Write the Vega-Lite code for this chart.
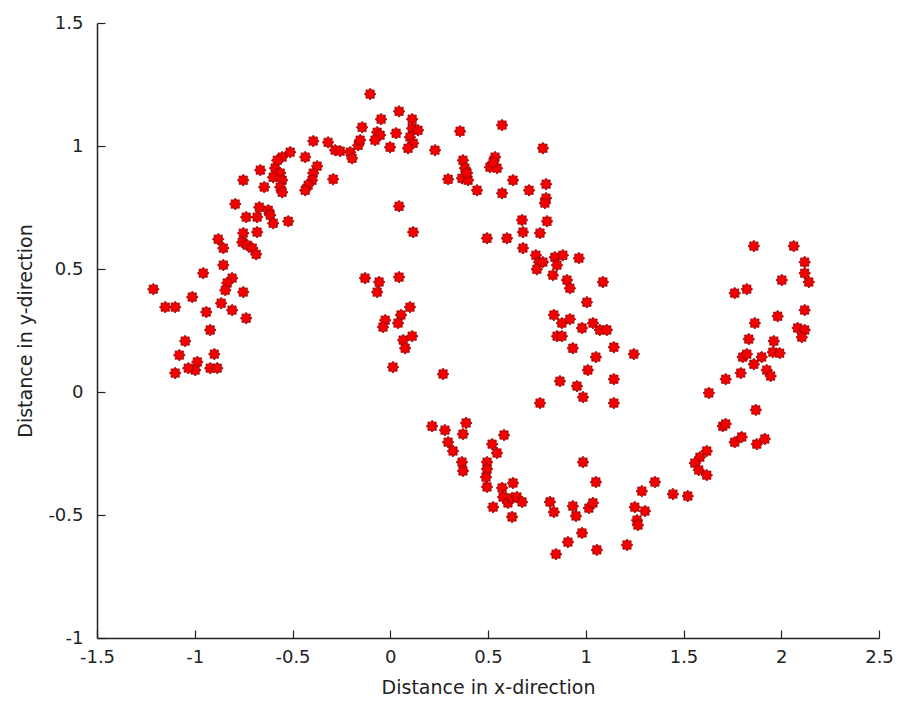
{
  "$schema": "https://vega.github.io/schema/vega-lite/v6.json",
  "width": 782,
  "height": 615,
  "autosize": "none",
  "padding": {"left": 97, "top": 23, "right": 23, "bottom": 68},
  "background": "white",
  "config": {
    "view": {"stroke": null},
    "axis": {
      "grid": false,
      "domainColor": "#222222",
      "domainWidth": 1.5,
      "tickColor": "#222222",
      "tickWidth": 1.2,
      "labelFont": "DejaVu Sans",
      "labelFontSize": 18,
      "labelColor": "#222222",
      "titleFont": "DejaVu Sans",
      "titleFontSize": 19,
      "titleFontWeight": "normal",
      "titleColor": "#222222"
    }
  },
  "data": {
    "values": [
      {"x": -1.212, "y": 0.418}, {"x": -1.151, "y": 0.345}, {"x": -1.100, "y": 0.345}, {"x": -1.013, "y": 0.386},
      {"x": -0.957, "y": 0.483}, {"x": -0.941, "y": 0.325}, {"x": -0.865, "y": 0.361}, {"x": -0.809, "y": 0.333},
      {"x": -0.737, "y": 0.300}, {"x": -0.921, "y": 0.252}, {"x": -1.049, "y": 0.207}, {"x": -1.079, "y": 0.150},
      {"x": -0.900, "y": 0.154}, {"x": -0.987, "y": 0.122}, {"x": -0.998, "y": 0.089}, {"x": -1.033, "y": 0.097},
      {"x": -1.100, "y": 0.077}, {"x": -0.921, "y": 0.097}, {"x": -0.885, "y": 0.097}, {"x": -0.854, "y": 0.516},
      {"x": -0.809, "y": 0.463}, {"x": -0.834, "y": 0.443}, {"x": -0.844, "y": 0.414}, {"x": -0.752, "y": 0.406},
      {"x": -0.880, "y": 0.621}, {"x": -0.854, "y": 0.585}, {"x": -0.752, "y": 0.646}, {"x": -0.757, "y": 0.609},
      {"x": -0.732, "y": 0.597}, {"x": -0.706, "y": 0.585}, {"x": -0.686, "y": 0.560}, {"x": -0.681, "y": 0.650},
      {"x": -0.793, "y": 0.764}, {"x": -0.670, "y": 0.751}, {"x": -0.624, "y": 0.739}, {"x": -0.614, "y": 0.719},
      {"x": -0.599, "y": 0.686}, {"x": -0.681, "y": 0.711}, {"x": -0.737, "y": 0.711}, {"x": -0.522, "y": 0.694},
      {"x": -0.752, "y": 0.861}, {"x": -0.645, "y": 0.833}, {"x": -0.665, "y": 0.902}, {"x": -0.589, "y": 0.910},
      {"x": -0.563, "y": 0.890}, {"x": -0.553, "y": 0.861}, {"x": -0.563, "y": 0.833}, {"x": -0.553, "y": 0.812},
      {"x": -0.599, "y": 0.873}, {"x": -0.512, "y": 0.975}, {"x": -0.553, "y": 0.955}, {"x": -0.578, "y": 0.942},
      {"x": -0.435, "y": 0.955}, {"x": -0.374, "y": 0.918}, {"x": -0.394, "y": 0.890}, {"x": -0.400, "y": 0.861},
      {"x": -0.420, "y": 0.841}, {"x": -0.435, "y": 0.820}, {"x": -0.292, "y": 0.865}, {"x": -0.394, "y": 1.020},
      {"x": -0.318, "y": 1.015}, {"x": -0.282, "y": 0.983}, {"x": -0.256, "y": 0.979}, {"x": -0.205, "y": 0.975},
      {"x": -0.195, "y": 0.950}, {"x": -0.164, "y": 1.003}, {"x": -0.154, "y": 1.024}, {"x": -0.144, "y": 1.076},
      {"x": -0.103, "y": 1.211}, {"x": -0.047, "y": 1.109}, {"x": -0.067, "y": 1.056}, {"x": -0.052, "y": 1.044},
      {"x": -0.078, "y": 1.024}, {"x": -0.001, "y": 0.995}, {"x": 0.030, "y": 1.052}, {"x": 0.045, "y": 1.141},
      {"x": 0.112, "y": 1.109}, {"x": 0.112, "y": 1.072}, {"x": 0.142, "y": 1.064}, {"x": 0.101, "y": 1.036},
      {"x": 0.117, "y": 1.011}, {"x": 0.091, "y": 0.991}, {"x": 0.229, "y": 0.983}, {"x": 0.357, "y": 1.060},
      {"x": 0.572, "y": 1.085}, {"x": 0.781, "y": 0.991}, {"x": 0.372, "y": 0.942}, {"x": 0.382, "y": 0.910},
      {"x": 0.367, "y": 0.869}, {"x": 0.398, "y": 0.861}, {"x": 0.444, "y": 0.820}, {"x": 0.296, "y": 0.865},
      {"x": 0.393, "y": 0.890}, {"x": 0.536, "y": 0.955}, {"x": 0.510, "y": 0.914}, {"x": 0.546, "y": 0.910},
      {"x": 0.526, "y": 0.934}, {"x": 0.628, "y": 0.861}, {"x": 0.572, "y": 0.808}, {"x": 0.710, "y": 0.820},
      {"x": 0.797, "y": 0.845}, {"x": 0.797, "y": 0.788}, {"x": 0.791, "y": 0.768}, {"x": 0.674, "y": 0.699},
      {"x": 0.679, "y": 0.650}, {"x": 0.766, "y": 0.646}, {"x": 0.802, "y": 0.694}, {"x": 0.495, "y": 0.625},
      {"x": 0.597, "y": 0.625}, {"x": 0.679, "y": 0.585}, {"x": 0.745, "y": 0.556}, {"x": 0.761, "y": 0.528},
      {"x": 0.750, "y": 0.499}, {"x": 0.781, "y": 0.528}, {"x": 0.842, "y": 0.548}, {"x": 0.883, "y": 0.556},
      {"x": 0.853, "y": 0.516}, {"x": 0.832, "y": 0.475}, {"x": 0.965, "y": 0.544}, {"x": 0.904, "y": 0.455},
      {"x": 0.919, "y": 0.422}, {"x": 1.088, "y": 0.447}, {"x": 1.006, "y": 0.365}, {"x": 0.837, "y": 0.313},
      {"x": 0.878, "y": 0.280}, {"x": 0.919, "y": 0.296}, {"x": 0.853, "y": 0.227}, {"x": 0.878, "y": 0.227},
      {"x": 0.981, "y": 0.260}, {"x": 1.037, "y": 0.280}, {"x": 1.072, "y": 0.252}, {"x": 1.108, "y": 0.252},
      {"x": 0.934, "y": 0.178}, {"x": 1.144, "y": 0.182}, {"x": 1.052, "y": 0.142}, {"x": 1.246, "y": 0.154},
      {"x": 1.011, "y": 0.089}, {"x": 0.868, "y": 0.044}, {"x": 0.955, "y": 0.024}, {"x": 0.986, "y": -0.021},
      {"x": 1.144, "y": 0.052}, {"x": 0.766, "y": -0.045}, {"x": 1.144, "y": -0.045},
      {"x": 0.045, "y": 0.755}, {"x": 0.117, "y": 0.650}, {"x": -0.129, "y": 0.463}, {"x": -0.057, "y": 0.447},
      {"x": -0.067, "y": 0.406}, {"x": 0.045, "y": 0.467}, {"x": 0.101, "y": 0.345}, {"x": 0.055, "y": 0.313},
      {"x": 0.040, "y": 0.280}, {"x": -0.026, "y": 0.292}, {"x": -0.037, "y": 0.264}, {"x": 0.066, "y": 0.211},
      {"x": 0.112, "y": 0.227}, {"x": 0.076, "y": 0.178}, {"x": 0.014, "y": 0.101}, {"x": 0.270, "y": 0.073},
      {"x": 0.214, "y": -0.139}, {"x": 0.280, "y": -0.155}, {"x": 0.296, "y": -0.204}, {"x": 0.321, "y": -0.240},
      {"x": 0.388, "y": -0.126}, {"x": 0.372, "y": -0.171}, {"x": 0.582, "y": -0.175}, {"x": 0.521, "y": -0.212},
      {"x": 0.546, "y": -0.248}, {"x": 0.367, "y": -0.285}, {"x": 0.372, "y": -0.321}, {"x": 0.495, "y": -0.285},
      {"x": 0.495, "y": -0.313}, {"x": 0.490, "y": -0.346}, {"x": 0.495, "y": -0.386}, {"x": 0.572, "y": -0.390},
      {"x": 0.577, "y": -0.427}, {"x": 0.602, "y": -0.451}, {"x": 0.623, "y": -0.431}, {"x": 0.648, "y": -0.427},
      {"x": 0.674, "y": -0.447}, {"x": 0.628, "y": -0.370}, {"x": 0.526, "y": -0.468}, {"x": 0.623, "y": -0.508},
      {"x": 0.817, "y": -0.447}, {"x": 0.837, "y": -0.488}, {"x": 0.934, "y": -0.464}, {"x": 0.950, "y": -0.504},
      {"x": 1.016, "y": -0.472}, {"x": 1.037, "y": -0.451}, {"x": 0.986, "y": -0.285}, {"x": 1.052, "y": -0.366},
      {"x": 0.981, "y": -0.573}, {"x": 0.909, "y": -0.610}, {"x": 0.848, "y": -0.659}, {"x": 1.057, "y": -0.642},
      {"x": 1.211, "y": -0.622}, {"x": 1.251, "y": -0.468}, {"x": 1.303, "y": -0.484}, {"x": 1.262, "y": -0.521},
      {"x": 1.267, "y": -0.541}, {"x": 1.287, "y": -0.403}, {"x": 1.354, "y": -0.366}, {"x": 1.446, "y": -0.415},
      {"x": 1.522, "y": -0.423}, {"x": 1.619, "y": -0.240}, {"x": 1.584, "y": -0.265}, {"x": 1.558, "y": -0.289},
      {"x": 1.578, "y": -0.317}, {"x": 1.619, "y": -0.338}, {"x": 1.701, "y": -0.139}, {"x": 1.716, "y": -0.130},
      {"x": 1.762, "y": -0.204}, {"x": 1.798, "y": -0.183}, {"x": 1.875, "y": -0.212}, {"x": 1.916, "y": -0.191},
      {"x": 1.716, "y": 0.052}, {"x": 1.793, "y": 0.077}, {"x": 1.630, "y": -0.004}, {"x": 1.870, "y": -0.073},
      {"x": 1.803, "y": 0.142}, {"x": 1.824, "y": 0.154}, {"x": 1.900, "y": 0.142}, {"x": 1.860, "y": 0.113},
      {"x": 1.926, "y": 0.089}, {"x": 1.946, "y": 0.065}, {"x": 1.834, "y": 0.215}, {"x": 1.962, "y": 0.207},
      {"x": 1.957, "y": 0.162}, {"x": 1.992, "y": 0.158}, {"x": 1.865, "y": 0.280}, {"x": 1.982, "y": 0.308},
      {"x": 2.084, "y": 0.260}, {"x": 2.120, "y": 0.252}, {"x": 2.105, "y": 0.223}, {"x": 2.120, "y": 0.333},
      {"x": 1.762, "y": 0.402}, {"x": 1.824, "y": 0.418}, {"x": 2.003, "y": 0.455}, {"x": 2.120, "y": 0.528},
      {"x": 2.120, "y": 0.483}, {"x": 2.141, "y": 0.447}, {"x": 1.860, "y": 0.593}, {"x": 2.064, "y": 0.593}
    ]
  },
  "mark": {
    "type": "point",
    "shape": "M1,0L0.665,0.276L0.707,0.707L0.276,0.665L0,1L-0.276,0.665L-0.707,0.707L-0.665,0.276L-1,0L-0.665,-0.276L-0.707,-0.707L-0.276,-0.665L0,-1L0.276,-0.665L0.707,-0.707L0.665,-0.276Z",
    "filled": true,
    "fill": "#f20000",
    "fillOpacity": 1,
    "stroke": "#8a0000",
    "strokeWidth": 0.8,
    "strokeOpacity": 1,
    "size": 140
  },
  "encoding": {
    "x": {
      "field": "x",
      "type": "quantitative",
      "scale": {"domain": [-1.5, 2.5], "nice": false, "zero": false},
      "axis": {
        "title": "Distance in x-direction",
        "values": [-1.5, -1, -0.5, 0, 0.5, 1, 1.5, 2, 2.5],
        "tickSize": -8,
        "labelPadding": 18,
        "labelFlush": false,
        "labelOverlap": false,
        "titlePadding": 12,
        "labelExpr": "datum.value < 0 ? '-' + format(-datum.value, '~g') : format(datum.value, '~g')"
      }
    },
    "y": {
      "field": "y",
      "type": "quantitative",
      "scale": {"domain": [-1, 1.5], "nice": false, "zero": false},
      "axis": {
        "title": "Distance in y-direction",
        "values": [-1, -0.5, 0, 0.5, 1, 1.5],
        "tickSize": -8,
        "labelPadding": 22,
        "labelFlush": false,
        "labelOverlap": false,
        "titlePadding": 12,
        "labelExpr": "datum.value < 0 ? '-' + format(-datum.value, '~g') : format(datum.value, '~g')"
      }
    }
  }
}
